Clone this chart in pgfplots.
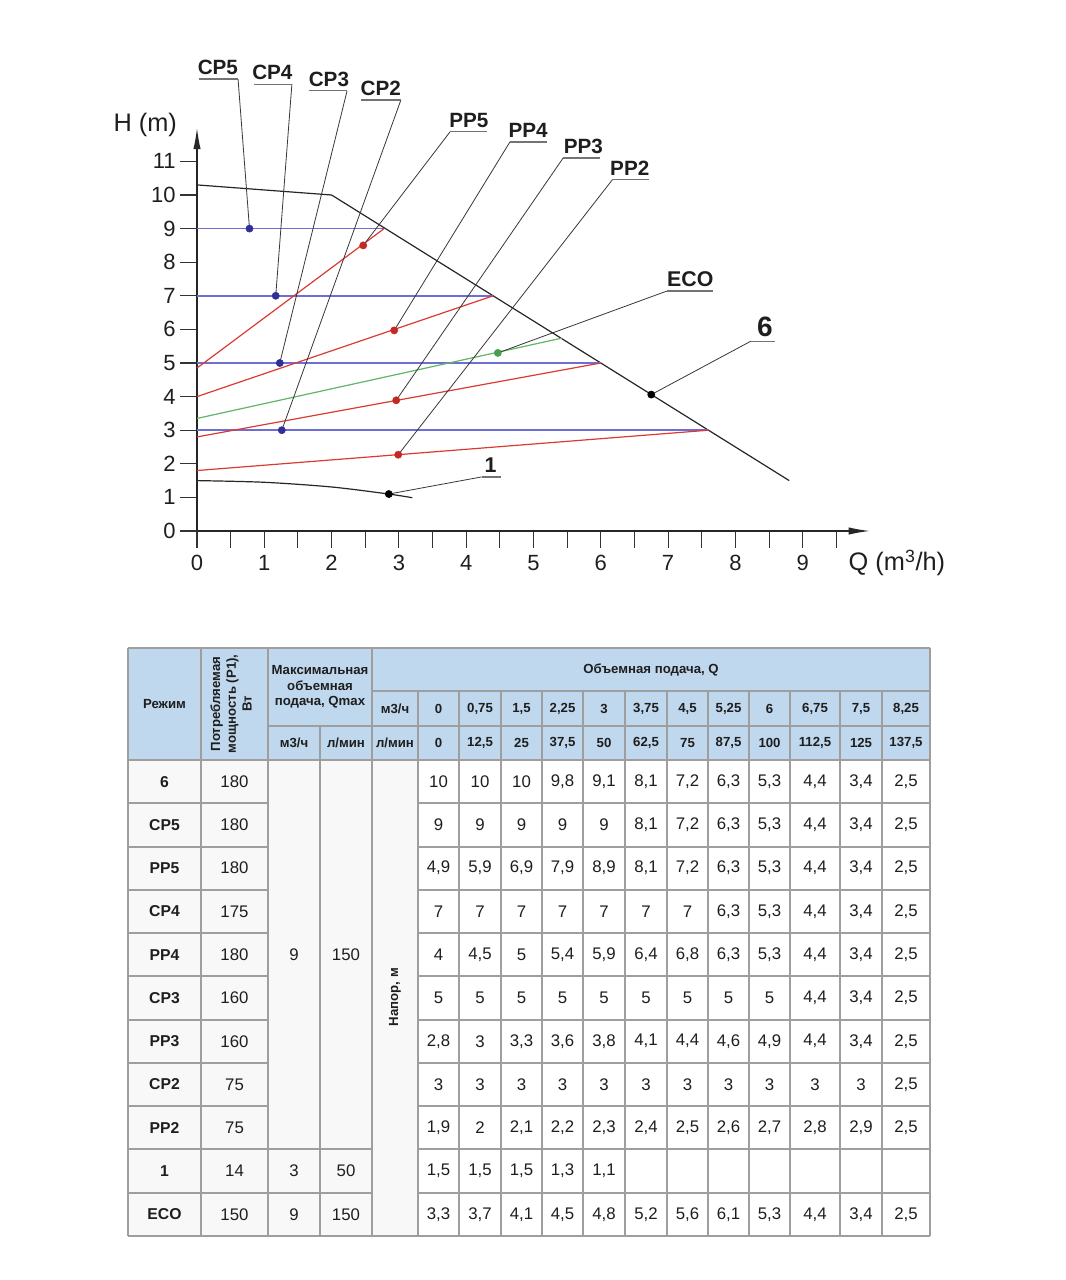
\documentclass[border=0pt]{standalone}
\usepackage{fontspec}
\setmainfont{Liberation Sans}
\usepackage{pgfplots}
\pgfplotsset{compat=1.18}
\usetikzlibrary{arrows.meta}

\definecolor{cpline}{RGB}{110,110,215}
\definecolor{cpdot}{RGB}{48,48,150}
\definecolor{ppline}{RGB}{218,58,50}
\definecolor{ppdot}{RGB}{196,40,36}
\definecolor{ecoline}{RGB}{96,182,100}
\definecolor{ecodot}{RGB}{70,160,80}
\definecolor{hdr}{RGB}{192,216,238}
\definecolor{gridc}{RGB}{158,158,158}
\definecolor{lgray}{RGB}{248,248,248}
\definecolor{lead}{RGB}{55,55,55}
\definecolor{uline}{RGB}{115,115,115}
\definecolor{txt}{RGB}{30,30,30}

\newcommand\callout[9]{%
  \draw[lead, line width=0.6pt] (axis cs:#1,#2) -- (axis cs:#3,#4);
  \draw[uline, line width=0.9pt] (axis cs:#5,#4) -- (axis cs:#6,#4);
  \node[anchor=base, yshift=3.5pt, inner sep=0pt, font=\fontsize{#9}{#9}\selectfont\bfseries, text=txt] at (axis cs:#7,#4) {#8};
}

\newcommand\hdrfont{\fontsize{9.9}{11.8}\selectfont\bfseries}
\newcommand\datfont{\fontsize{12.6}{14}\selectfont}
\newcommand\labfont{\fontsize{11.8}{13}\selectfont\bfseries}

\newcommand\tabrow[4]{%
  \pgfmathsetmacro\ry{-760-43.27*(#1+0.5)}
  \node[font=\labfont, text=txt] at (164.5,\ry) {#2};
  \node[font=\datfont, text=txt] at (234.5,\ry) {#3};
  \foreach \v [count=\c from 0] in {#4} {
    \pgfmathsetmacro\cx{{438.5,480,521.5,562.5,604,646,687.5,728.5,769.5,815,861,906}[\c]}
    \node[font=\datfont, text=txt] at (\cx,\ry) {\pgfmathprintnumber[use comma, assume math mode=true]{\v}};
  }
}

\begin{document}
\begin{tikzpicture}[x=0.75pt,y=0.75pt]
\useasboundingbox (0,0) rectangle (1066,-1280);

\begin{axis}[
  at={(147.75pt,-398.25pt)}, anchor=south west,
  scale only axis, width=504.75pt, height=302.4pt,
  xmin=0, xmax=10, ymin=0, ymax=12,
  axis lines=left,
  axis line style={line width=1pt, black!85, -{Latex[length=16pt,width=5.5pt]}},
  tick align=outside,
  major tick length=12.5pt, minor tick length=12.5pt,
  tick style={line width=0.8pt, black!80},
  xtick={0,...,9}, minor xtick={0.5,1.5,...,9.5},
  ytick={0,...,11},
  ticklabel style={font=\fontsize{16.5}{18}\selectfont, text=txt},
  xticklabel style={yshift=-2pt},
  /pgf/number format/assume math mode=true,
  clip=false,
]
\addplot[black!85, line width=0.9pt] coordinates {(0,10.3) (2,10) (8.8,1.5)};
\addplot[black!85, line width=0.9pt, smooth] coordinates {(0,1.5) (1,1.45) (2,1.31) (2.85,1.1) (3.2,0.99)};
\addplot[cpline, line width=1.1pt] coordinates {(0,9) (2.78,9)};
\addplot[cpline, line width=1.1pt] coordinates {(0,7) (4.4,7)};
\addplot[cpline, line width=1.1pt] coordinates {(0,5) (6.0,5)};
\addplot[cpline, line width=1.1pt] coordinates {(0,3) (7.6,3)};
\addplot[ppline, line width=0.9pt] coordinates {(0,4.85) (2.78,9)};
\addplot[ppline, line width=0.9pt] coordinates {(0,4.0) (4.4,7)};
\addplot[ppline, line width=0.9pt] coordinates {(0,2.8) (6.0,5)};
\addplot[ppline, line width=0.9pt] coordinates {(0,1.8) (7.6,3)};
\addplot[ecoline, line width=0.9pt] coordinates {(0,3.35) (5.42,5.74)};

\callout{0.78}{9}{0.61}{13.45}{0.03}{0.61}{0.31}{CP5}{15.5}
\callout{1.17}{7}{1.41}{13.30}{0.85}{1.41}{1.12}{CP4}{15.5}
\callout{1.23}{5}{2.23}{13.10}{1.66}{2.23}{1.96}{CP3}{15.5}
\callout{1.26}{3}{3.03}{12.83}{2.44}{3.03}{2.73}{CP2}{15.5}
\callout{2.47}{8.5}{3.76}{11.88}{3.76}{4.31}{4.04}{PP5}{15.5}
\callout{2.93}{5.97}{4.65}{11.58}{4.65}{5.20}{4.92}{PP4}{15.5}
\callout{2.96}{3.89}{5.44}{11.10}{5.44}{5.99}{5.74}{PP3}{15.5}
\callout{2.99}{2.27}{6.17}{10.45}{6.17}{6.72}{6.43}{PP2}{15.5}
\callout{4.47}{5.3}{6.98}{7.14}{6.98}{7.67}{7.33}{ECO}{16}
\callout{6.75}{4.06}{8.23}{5.65}{8.23}{8.59}{8.44}{6}{21}
\callout{2.85}{1.1}{4.23}{1.61}{4.23}{4.52}{4.36}{1}{16}

\addplot[only marks, mark=*, mark size=2.7pt, cpdot] coordinates {(0.78,9) (1.17,7) (1.23,5) (1.26,3)};
\addplot[only marks, mark=*, mark size=2.7pt, ppdot] coordinates {(2.47,8.5) (2.93,5.97) (2.96,3.89) (2.99,2.27)};
\addplot[only marks, mark=*, mark size=2.7pt, ecodot] coordinates {(4.47,5.3)};
\addplot[only marks, mark=*, mark size=2.7pt, black] coordinates {(6.75,4.06) (2.85,1.1)};

\node[font=\fontsize{19}{21}\selectfont, text=txt] at (axis cs:-0.77,12.08) {H (m)};
\node[font=\fontsize{19}{21}\selectfont, text=txt] at (axis cs:10.40,-0.95) {Q (m\textsuperscript{3}/h)};
\end{axis}

% ---------------- table ----------------
\fill[hdr] (128,-648) rectangle (930,-760);
\fill[lgray] (128,-760) rectangle (418,-1236);
\fill[white] (418,-760) rectangle (930,-1236);
\begin{scope}[draw=gridc, line width=1.1pt]
\draw (128,-648) -- (930,-648);
\draw (372,-691) -- (930,-691);
\draw (268,-726) -- (930,-726);
\draw (128,-760) -- (930,-760);
\foreach \yy in {803,847,890,933,976,1020,1063,1106,1149} {
  \draw (128,-\yy) -- (268,-\yy);
  \draw (418,-\yy) -- (930,-\yy);
}
\draw (128,-1193) -- (268,-1193);
\draw (418,-1193) -- (930,-1193);
\draw (268,-1149) -- (372,-1149);
\draw (268,-1193) -- (372,-1193);
\draw (128,-1236) -- (930,-1236);
\foreach \xx in {128,201,268,372,930} { \draw (\xx,-648) -- (\xx,-1236); }
\draw (320,-726) -- (320,-1236);
\foreach \xx in {418,459,501,542,583,625,667,708,749,790,840,882} { \draw (\xx,-691) -- (\xx,-1236); }
\end{scope}

\node[font=\hdrfont, text=txt] at (164.5,-704) {Режим};
\node[font=\hdrfont, text=txt, rotate=90, align=center] at (231,-704) {Потребляемая\\мощность (P1),\\Вт};
\node[font=\hdrfont, text=txt, align=center] at (320,-687) {Максимальная\\объемная\\подача, Qmax};
\node[font=\hdrfont, text=txt] at (294,-743) {м3/ч};
\node[font=\hdrfont, text=txt] at (346,-743) {л/мин};
\node[font=\hdrfont, text=txt] at (651,-669.5) {Объемная подача, Q};
\node[font=\hdrfont, text=txt] at (395,-708.5) {м3/ч};
\node[font=\hdrfont, text=txt] at (395,-743) {л/мин};
\foreach \v [count=\c from 0] in {0,0.75,1.5,2.25,3,3.75,4.5,5.25,6,6.75,7.5,8.25} {
  \pgfmathsetmacro\cx{{438.5,480,521.5,562.5,604,646,687.5,728.5,769.5,815,861,906}[\c]}
  \node[font=\hdrfont, text=txt] at (\cx,-708.5) {\pgfmathprintnumber[use comma, assume math mode=true]{\v}};
}
\foreach \v [count=\c from 0] in {0,12.5,25,37.5,50,62.5,75,87.5,100,112.5,125,137.5} {
  \pgfmathsetmacro\cx{{438.5,480,521.5,562.5,604,646,687.5,728.5,769.5,815,861,906}[\c]}
  \node[font=\hdrfont, text=txt] at (\cx,-743) {\pgfmathprintnumber[use comma, assume math mode=true]{\v}};
}

\tabrow{0}{6}{180}{10,10,10,9.8,9.1,8.1,7.2,6.3,5.3,4.4,3.4,2.5}
\tabrow{1}{CP5}{180}{9,9,9,9,9,8.1,7.2,6.3,5.3,4.4,3.4,2.5}
\tabrow{2}{PP5}{180}{4.9,5.9,6.9,7.9,8.9,8.1,7.2,6.3,5.3,4.4,3.4,2.5}
\tabrow{3}{CP4}{175}{7,7,7,7,7,7,7,6.3,5.3,4.4,3.4,2.5}
\tabrow{4}{PP4}{180}{4,4.5,5,5.4,5.9,6.4,6.8,6.3,5.3,4.4,3.4,2.5}
\tabrow{5}{CP3}{160}{5,5,5,5,5,5,5,5,5,4.4,3.4,2.5}
\tabrow{6}{PP3}{160}{2.8,3,3.3,3.6,3.8,4.1,4.4,4.6,4.9,4.4,3.4,2.5}
\tabrow{7}{CP2}{75}{3,3,3,3,3,3,3,3,3,3,3,2.5}
\tabrow{8}{PP2}{75}{1.9,2,2.1,2.2,2.3,2.4,2.5,2.6,2.7,2.8,2.9,2.5}
\tabrow{9}{1}{14}{1.5,1.5,1.5,1.3,1.1}
\tabrow{10}{ECO}{150}{3.3,3.7,4.1,4.5,4.8,5.2,5.6,6.1,5.3,4.4,3.4,2.5}

\node[font=\datfont, text=txt] at (294,-954.7) {9};
\node[font=\datfont, text=txt] at (346,-954.7) {150};
\node[font=\datfont, text=txt] at (294,-1171) {3};
\node[font=\datfont, text=txt] at (346,-1171) {50};
\node[font=\datfont, text=txt] at (294,-1214.4) {9};
\node[font=\datfont, text=txt] at (346,-1214.4) {150};
\node[font=\hdrfont, text=txt, rotate=90] at (395,-997) {Напор, м};
\end{tikzpicture}
\end{document}
